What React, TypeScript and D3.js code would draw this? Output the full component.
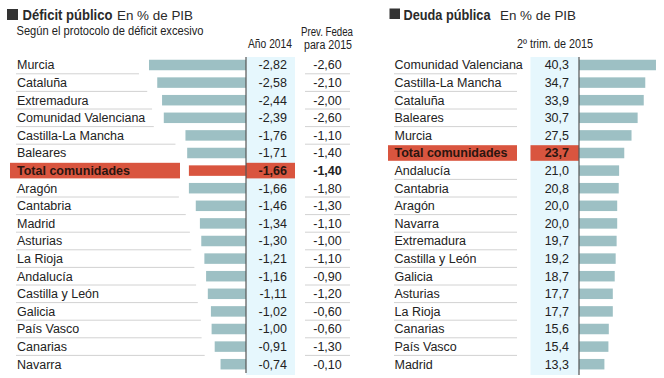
import React from "react";
import * as d3 from "d3";

const deficitRegions = ["Murcia", "Cataluña", "Extremadura", "Comunidad Valenciana", "Castilla-La Mancha", "Baleares", "Total comunidades", "Aragón", "Cantabria", "Madrid", "Asturias", "La Rioja", "Andalucía", "Castilla y León", "Galicia", "País Vasco", "Canarias", "Navarra"];
const deficit2014 = [-2.82, -2.58, -2.44, -2.39, -1.76, -1.71, -1.66, -1.66, -1.46, -1.34, -1.3, -1.21, -1.16, -1.11, -1.02, -1.0, -0.91, -0.74];
const fedea2015 = [-2.6, -2.1, -2.0, -2.6, -1.1, -1.4, -1.4, -1.8, -1.3, -1.1, -1.0, -1.1, -0.9, -1.2, -0.6, -0.6, -1.3, -0.1];

const debtRegions = ["Comunidad Valenciana", "Castilla-La Mancha", "Cataluña", "Baleares", "Murcia", "Total comunidades", "Andalucía", "Cantabria", "Aragón", "Navarra", "Extremadura", "Castilla y León", "Galicia", "Asturias", "La Rioja", "Canarias", "País Vasco", "Madrid"];
const debt2015 = [40.3, 34.7, 33.9, 30.7, 27.5, 23.7, 21.0, 20.8, 20.0, 20.0, 19.7, 19.2, 18.7, 17.7, 17.7, 15.6, 15.4, 13.3];

const TOTAL = "Total comunidades";
const W = 664, H = 378;
const TEAL = "#9dc0c4";
const RED = "#d9553f";
const LIGHT = "#e6f7fd";
const SEP = "#d2d2d2";
const TXT = "#222";
const FONT = "'Liberation Sans', Arial, Helvetica, sans-serif";

const loc = d3.formatLocale({ decimal: ",", thousands: ".", grouping: [3], currency: ["", "€"], minus: "-" });
const f2 = loc.format(".2f");
const f1 = loc.format(".1f");

export default function App() {
  const rowTop = 56.2, step = 17.6;
  const yL = d3.scaleBand<string>().domain(deficitRegions).range([rowTop, rowTop + step * 18]).padding(0);
  const yR = d3.scaleBand<string>().domain(debtRegions).range([rowTop, rowTop + step * 18]).padding(0);
  const bw = yL.bandwidth();
  const barH = 10.5;

  const xL = d3.scaleLinear().domain([-3, 0]).range([246 - 3 * 34.4, 246]);
  const xR = d3.scaleLinear().domain([0, 45]).range([579, 579 + 45 * 1.91]);

  const leftBars = deficitRegions.map((r, i) => ({ r, v: deficit2014[i], p: fedea2015[i], i }));
  const rightBars = debtRegions.map((r, i) => ({ r, v: debt2015[i], i }));

  return (
    <svg width={W} height={H} style={{ position: "absolute", left: 0, top: 0, background: "#fff" }} fontFamily={FONT}>
      <rect x={0} y={0} width={W} height={H} fill="#fff" />
      {/* Left title */}
      <rect x={7} y={9} width={11} height={11} fill="#333" />
      <text x={22.5} y={19.5} fontSize={14.5} fontWeight="bold" fill="#2a2a2a" textLength={90} lengthAdjust="spacingAndGlyphs">Déficit público</text>
      <text x={117} y={19.5} fontSize={13.5} fill="#2a2a2a" textLength={76} lengthAdjust="spacingAndGlyphs">En % de PIB</text>
      <text x={16.5} y={35} fontSize={12} fill={TXT} textLength={187} lengthAdjust="spacingAndGlyphs">Según el protocolo de déficit excesivo</text>
      <text x={248} y={48} fontSize={12} fill={TXT} textLength={44} lengthAdjust="spacingAndGlyphs">Año 2014</text>
      <text x={301} y={36} fontSize={12} fill={TXT} textLength={52} lengthAdjust="spacingAndGlyphs">Prev. Fedea</text>
      <text x={304} y={48.5} fontSize={12} fill={TXT} textLength={48} lengthAdjust="spacingAndGlyphs">para 2015</text>

      {/* Left value column background */}
      <rect x={246} y={57} width={49} height={318} fill={LIGHT} />

      {/* Left separators */}
      {leftBars.slice(0, -1).map((d) => {
        const next = leftBars[d.i + 1];
        if (d.r === TOTAL || next.r === TOTAL) return null;
        const yy = (yL(d.r) as number) + bw;
        const end = Math.min(xL(d.v), xL(next.v)) - 10;
        return (
          <g key={"ls" + d.i}>
            <line x1={16} x2={end} y1={yy} y2={yy} stroke={SEP} strokeWidth={1} />
            <line x1={305} x2={350} y1={yy} y2={yy} stroke={SEP} strokeWidth={1} />
          </g>
        );
      })}

      {/* Left rows */}
      {leftBars.map((d) => {
        const cy = (yL(d.r) as number) + bw / 2;
        const isT = d.r === TOTAL;
        return (
          <g key={"lr" + d.i}>
            {isT && <rect x={10} y={cy - 7.8} width={170} height={15.6} fill={RED} />}
            {isT && <rect x={246} y={cy - 7.8} width={49} height={15.6} fill={RED} />}
            <rect x={xL(d.v)} y={cy - barH / 2} width={xL(0) - xL(d.v)} height={barH} fill={isT ? RED : TEAL} />
            <text x={17} y={cy + 4.4} fontSize={12.5} fill={isT ? "#2b1510" : TXT} fontWeight={isT ? "bold" : "normal"}>{d.r}</text>
            <text x={287} y={cy + 4.4} fontSize={12.5} textAnchor="end" fill={isT ? "#2b1510" : TXT} fontWeight={isT ? "bold" : "normal"}>{f2(d.v)}</text>
            <text x={327.5} y={cy + 4.4} fontSize={12.5} textAnchor="middle" fill={TXT} fontWeight={isT ? "bold" : "normal"}>{f2(d.p)}</text>
          </g>
        );
      })}
      <line x1={246} x2={246} y1={57} y2={373} stroke="#555" strokeWidth={1.2} />

      {/* Right title */}
      <rect x={389.5} y={8.5} width={10.5} height={10.5} fill="#333" />
      <text x={403.5} y={19.5} fontSize={14.5} fontWeight="bold" fill="#2a2a2a" textLength={87} lengthAdjust="spacingAndGlyphs">Deuda pública</text>
      <text x={500} y={19.5} fontSize={13.5} fill="#2a2a2a" textLength={76} lengthAdjust="spacingAndGlyphs">En % de PIB</text>
      <text x={517} y={48} fontSize={12} fill={TXT} textLength={76} lengthAdjust="spacingAndGlyphs">2º trim. de 2015</text>

      <rect x={530.5} y={57} width={48.5} height={318} fill={LIGHT} />

      {rightBars.slice(0, -1).map((d) => {
        const next = rightBars[d.i + 1];
        if (d.r === TOTAL || next.r === TOTAL) return null;
        const yy = (yR(d.r) as number) + bw;
        return <line key={"rs" + d.i} x1={394} x2={517} y1={yy} y2={yy} stroke={SEP} strokeWidth={1} />;
      })}

      {rightBars.map((d) => {
        const cy = (yR(d.r) as number) + bw / 2;
        const isT = d.r === TOTAL;
        return (
          <g key={"rr" + d.i}>
            {isT && <rect x={388} y={cy - 7.8} width={129} height={15.6} fill={RED} />}
            {isT && <rect x={530.5} y={cy - 7.8} width={48.5} height={15.6} fill={RED} />}
            <rect x={xR(0)} y={cy - barH / 2} width={xR(d.v) - xR(0)} height={barH} fill={TEAL} />
            <text x={394.5} y={cy + 4.4} fontSize={12.5} fill={isT ? "#2b1510" : TXT} fontWeight={isT ? "bold" : "normal"}>{d.r}</text>
            <text x={569} y={cy + 4.4} fontSize={12.5} textAnchor="end" fill={isT ? "#2b1510" : TXT} fontWeight={isT ? "bold" : "normal"}>{f1(d.v)}</text>
          </g>
        );
      })}
      <line x1={579} x2={579} y1={57} y2={375} stroke="#555" strokeWidth={1.2} />
    </svg>
  );
}
